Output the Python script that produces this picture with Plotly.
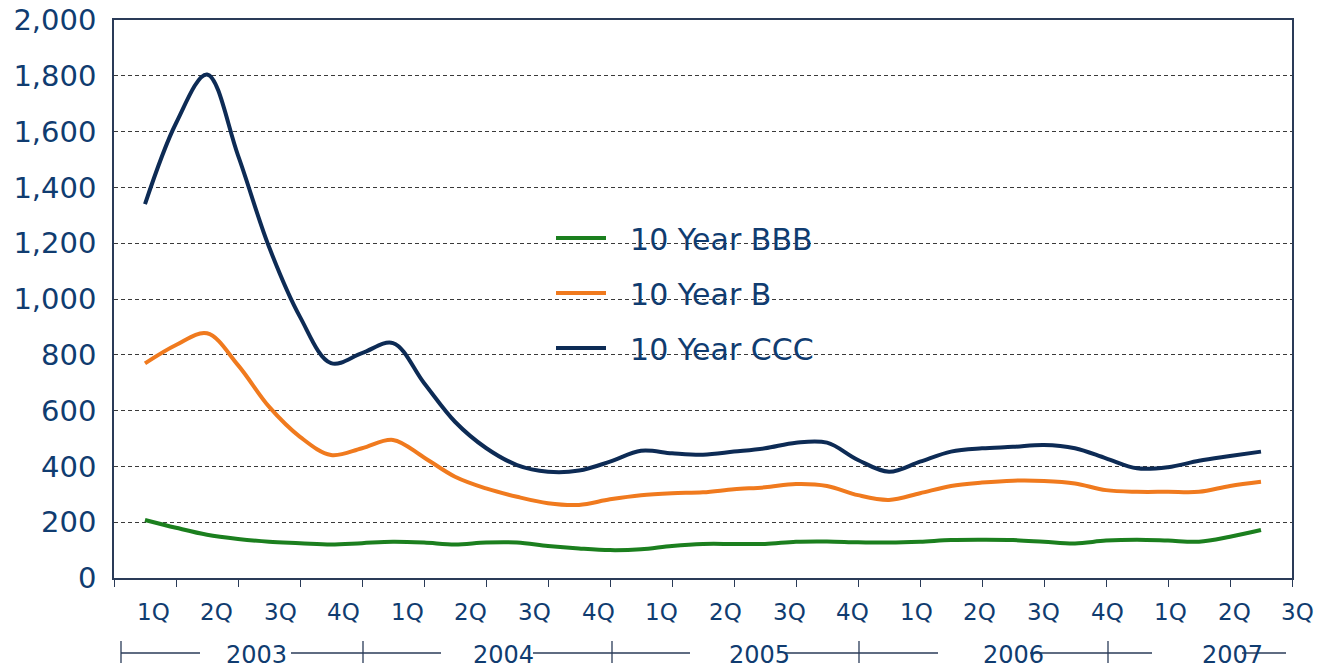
import plotly.graph_objects as go

# ---- data ----
x_pos = [0.5, 1.0, 1.5, 2.0, 2.5, 3.0, 3.5, 4.0, 4.5, 5.0, 5.5, 6.0, 6.5, 7.0, 7.5,
         8.0, 8.5, 9.0, 9.5, 10.0, 10.5, 11.0, 11.5, 12.0, 12.5, 13.0, 13.5, 14.0,
         14.5, 15.0, 15.5, 16.0, 16.5, 17.0, 17.5, 18.0, 18.5]

bbb = [208, 180, 155, 140, 130, 125, 120, 125, 130, 127, 120, 127, 127, 115, 106,
       100, 103, 115, 122, 122, 122, 130, 131, 128, 127, 130, 136, 137, 136, 130,
       124, 134, 137, 134, 130, 148, 172]

b = [769, 835, 877, 763, 614, 506, 441, 465, 495, 432, 363, 321, 291, 268, 262,
     282, 297, 304, 307, 318, 325, 337, 330, 297, 280, 304, 330, 342, 349, 348,
     339, 315, 309, 309, 309, 330, 345]

ccc = [1340, 1630, 1805, 1515, 1187, 936, 770, 806, 842, 699, 560, 466, 405, 381,
       385, 417, 456, 447, 442, 453, 465, 485, 485, 423, 381, 417, 453, 465, 470,
       477, 465, 429, 393, 397, 420, 437, 453]

quarter_labels = ["1Q", "2Q", "3Q", "4Q", "1Q", "2Q", "3Q", "4Q", "1Q", "2Q", "3Q",
                  "4Q", "1Q", "2Q", "3Q", "4Q", "1Q", "2Q", "3Q"]
year_labels = ["2003", "2004", "2005", "2006", "2007"]
y_ticks = [0, 200, 400, 600, 800, 1000, 1200, 1400, 1600, 1800, 2000]

series_names = ["10 Year BBB", "10 Year B", "10 Year CCC"]

# ---- style ----
NAVY_TXT = "#103C70"
AXIS_COL = "#2A3B58"
GRID_COL = "#3A3A3A"
COLORS = ["#1B7F1E", "#F07A1E", "#0D2B55"]
FONT = "DejaVu Sans"
NBSP = "\u00a0"

fig = go.Figure()
for i, (name, vals) in enumerate(zip(series_names, [bbb, b, ccc])):
    fig.add_trace(go.Scatter(
        x=x_pos, y=vals, mode="lines", name=NBSP * 2 + name, legendgroup=name,
        line=dict(color=COLORS[i], width=4, shape="spline", smoothing=1.0),
    ))

# The page body adds an 8px offset; geometry below is in screenshot pixels.
OFF = 8
SCR_W, SCR_H = 1332, 670
W, H = SCR_W - OFF, SCR_H - OFF
PL, PR, PT, PB = 114, 1292, 20, 578      # plot area in screenshot pixels
L, R, T, B = PL - OFF, W - (PR - OFF), PT - OFF, H - (PB - OFF)


def px2x(p):
    return (p - PL) / (PR - PL) * 19.0


def px2paper(p):
    return (p - PL) / (PR - PL)


def py2paper(p):
    return (PB - p) / (PB - PT)


annotations = []
# quarter labels
for k, lab in enumerate(quarter_labels):
    annotations.append(dict(
        x=px2paper(153 + 63.6 * k), y=py2paper(612), xref="paper", yref="paper",
        text=lab, showarrow=False, xanchor="center", yanchor="middle",
        font=dict(family=FONT, size=23, color=NAVY_TXT)))

# year labels
year_centers_px = [256, 503, 759, 1013, 1232]
for cx, lab in zip(year_centers_px, year_labels):
    annotations.append(dict(
        x=px2paper(cx), y=py2paper(655), xref="paper", yref="paper",
        text=lab, showarrow=False, xanchor="center", yanchor="middle",
        font=dict(family=FONT, size=24, color=NAVY_TXT)))

shapes = []
# white box behind the legend (cuts the gridlines)
shapes.append(dict(type="rect", xref="x", yref="paper",
                   x0=px2x(443), x1=px2x(898), y0=py2paper(372), y1=py2paper(212),
                   fillcolor="white", line=dict(width=0), layer="between"))
# year bracket lines
seg_px = [(121, 200), (291, 441), (533, 690), (785, 938), (1030, 1152), (1242, 1286)]
for a, c in seg_px:
    shapes.append(dict(type="line", xref="x", yref="paper",
                       x0=px2x(a), x1=px2x(c), y0=py2paper(653), y1=py2paper(653),
                       line=dict(color=AXIS_COL, width=1.3)))
for tx in [121, 363, 612, 859, 1108]:
    shapes.append(dict(type="line", xref="x", yref="paper",
                       x0=px2x(tx), x1=px2x(tx), y0=py2paper(641), y1=py2paper(663),
                       line=dict(color=AXIS_COL, width=1.3)))

fig.update_layout(
    width=W, height=H,
    margin=dict(l=L, r=R, t=T, b=B, autoexpand=False),
    paper_bgcolor="white", plot_bgcolor="white",
    font=dict(family=FONT, color=NAVY_TXT),
    showlegend=True,
    legend=dict(x=px2paper(551), y=py2paper(212), xanchor="left", yanchor="top",
                bgcolor="rgba(0,0,0,0)", borderwidth=0,
                font=dict(family=FONT, size=30, color=NAVY_TXT),
                itemwidth=50, tracegroupgap=13, traceorder="grouped"),
    xaxis=dict(range=[0, 19], tickvals=list(range(20)), showticklabels=False,
               ticks="outside", ticklen=7, tickwidth=1.3, tickcolor=AXIS_COL,
               showline=True, linecolor=AXIS_COL, linewidth=1.5, mirror=True,
               showgrid=False, zeroline=False, fixedrange=True, automargin=False),
    yaxis=dict(range=[0, 2000], tickvals=y_ticks, tickformat=",",
               tickfont=dict(family=FONT, size=29, color=NAVY_TXT),
               ticks="", ticklabelstandoff=10, ticklabeloverflow="allow",
               showline=True, linecolor=AXIS_COL, linewidth=1.5, mirror=True,
               showgrid=True, gridcolor=GRID_COL, gridwidth=1, griddash="4px,3px",
               zeroline=False, fixedrange=True, automargin=False),
    annotations=annotations,
    shapes=shapes,
)

fig.write_html("out.html")
